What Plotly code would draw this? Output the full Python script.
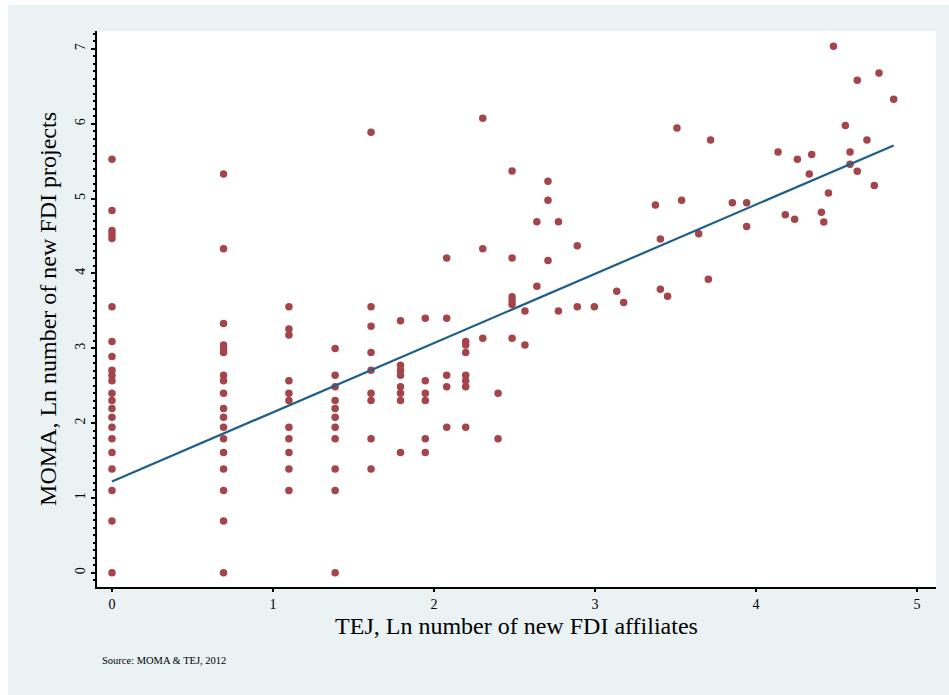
import numpy as np
import plotly.graph_objects as go

# TEJ (x) and MOMA (y) values, Ln of counts
tej = (
    [0.0] * 22
    + [0.693] * 18
    + [1.099] * 11
    + [1.386] * 11
    + [1.609] * 9
    + [1.792] * 8
    + [1.946] * 6
    + [2.079] * 5
    + [2.197] * 7
    + [2.303] * 3
    + [2.398] * 2
    + [2.485] * 6
    + [2.565] * 2
    + [2.639] * 2
    + [2.708] * 3
    + [2.773] * 2
    + [2.890] * 2
    + [2.996, 3.135, 3.178]
    + [3.375, 3.406, 3.406, 3.451, 3.509, 3.538, 3.644, 3.704, 3.718, 3.853,
       3.942, 3.942, 4.137, 4.182, 4.240, 4.257, 4.331, 4.346, 4.406, 4.421,
       4.450, 4.481, 4.555, 4.584, 4.584, 4.629, 4.629, 4.689, 4.735, 4.764, 4.855]
)
moma = (
    [5.525, 4.84, 4.575, 4.52, 4.466, 3.555, 3.091, 2.890, 2.708, 2.639, 2.565,
     2.398, 2.303, 2.197, 2.079, 1.946, 1.792, 1.609, 1.386, 1.099, 0.693, 0.0]
    + [5.33, 4.331, 3.332, 3.045, 2.996, 2.944, 2.639, 2.565, 2.398, 2.197,
       2.079, 1.946, 1.792, 1.609, 1.386, 1.099, 0.693, 0.0]
    + [3.555, 3.258, 3.178, 2.565, 2.398, 2.303, 1.946, 1.792, 1.609, 1.386, 1.099]
    + [2.996, 2.639, 2.485, 2.303, 2.197, 2.079, 1.946, 1.792, 1.386, 1.099, 0.0]
    + [5.886, 3.555, 3.296, 2.944, 2.708, 2.398, 2.303, 1.792, 1.386]
    + [3.367, 2.773, 2.708, 2.639, 2.485, 2.398, 2.303, 1.609]
    + [3.401, 2.565, 2.398, 2.303, 1.792, 1.609]
    + [4.205, 3.401, 2.639, 2.485, 1.946]
    + [3.091, 3.045, 2.944, 2.639, 2.565, 2.485, 1.946]
    + [6.075, 4.331, 3.135]
    + [2.398, 1.792]
    + [5.37, 4.205, 3.689, 3.638, 3.584, 3.135]
    + [3.497, 3.045]
    + [4.691, 3.829]
    + [5.231, 4.977, 4.174]
    + [4.691, 3.497]
    + [4.369, 3.555]
    + [3.555, 3.761, 3.611]
    + [4.915, 4.46, 3.79, 3.694, 5.944, 4.977, 4.532, 3.921, 5.784, 4.946,
       4.946, 4.626, 5.623, 4.786, 4.723, 5.525, 5.329, 5.588, 4.817, 4.687,
       5.075, 7.036, 5.976, 5.623, 5.459, 6.582, 5.365, 5.784, 5.174, 6.679, 6.328]
)

# fitted line
fit_intercept = 1.22
fit_slope = 0.925
fit_x = [0.0, 4.855]

x_ticks = [0, 1, 2, 3, 4, 5]
y_ticks = [0, 1, 2, 3, 4, 5, 6, 7]

FONT = "Liberation Serif"
BG = "#EAF2F3"

fig = go.Figure()
fig.add_trace(go.Scatter(
    x=tej, y=moma, mode="markers",
    marker=dict(color="#A3454B", size=7.5, line=dict(width=0)),
    showlegend=False, hoverinfo="x+y",
))
fit_y = [fit_intercept + fit_slope * v for v in fit_x]
fig.add_trace(go.Scatter(
    x=fit_x, y=fit_y, mode="lines",
    line=dict(color="#1F5E8A", width=2.2),
    showlegend=False,
))

W, H = 949, 695
L, R, T, B = 97, 13, 31, 108
pw, ph = W - L - R, H - T - B

def px_to_paper_x(px):
    return (px - L) / pw

def py_to_paper_y(py):
    return (H - B - py) / ph

fig.update_layout(
    width=W, height=H, autosize=False,
    margin=dict(l=L, r=R, t=T, b=B, pad=0),
    paper_bgcolor=BG, plot_bgcolor="white",
    font=dict(family=FONT, color="black"),
    xaxis=dict(
        range=[-0.093, 5.118], tickvals=x_ticks,
        showline=True, linecolor="black", linewidth=2,
        ticks="outside", ticklen=3, tickwidth=2, tickcolor="black",
        tickfont=dict(family=FONT, size=14, color="black"),
        showgrid=False, zeroline=False,
        title=dict(text="TEJ, Ln number of new FDI affiliates",
                   font=dict(family=FONT, size=24, color="black"), standoff=6),
    ),
    yaxis=dict(
        range=[-0.19, 7.24], tickvals=y_ticks, tickangle=-90,
        showline=True, linecolor="black", linewidth=2,
        ticks="outside", ticklen=4, tickwidth=2, tickcolor="black",
        minor=dict(dtick=0.1, ticks="outside", ticklen=2, tickwidth=2, tickcolor="black", showgrid=False),
        tickfont=dict(family=FONT, size=14, color="black"),
        showgrid=False, zeroline=False,
        title=dict(text="MOMA, Ln number of new FDI projects",
                   font=dict(family=FONT, size=24, color="black"), standoff=10),
    ),
    shapes=[
        # white strips outside the light background panel (left and top)
        dict(type="rect", xref="paper", yref="paper",
             x0=-0.3, x1=px_to_paper_x(8), y0=-0.4, y1=1.2,
             fillcolor="white", line=dict(width=0), layer="above"),
        dict(type="rect", xref="paper", yref="paper",
             x0=-0.3, x1=1.2, y0=py_to_paper_y(5), y1=1.2,
             fillcolor="white", line=dict(width=0), layer="above"),
    ],
    annotations=[
        dict(text="Source: MOMA & TEJ, 2012", xref="paper", yref="paper",
             x=px_to_paper_x(100), y=py_to_paper_y(660), xanchor="left", yanchor="middle",
             showarrow=False, font=dict(family=FONT, size=10.5, color="black")),
    ],
)

fig.write_html("out.html")
